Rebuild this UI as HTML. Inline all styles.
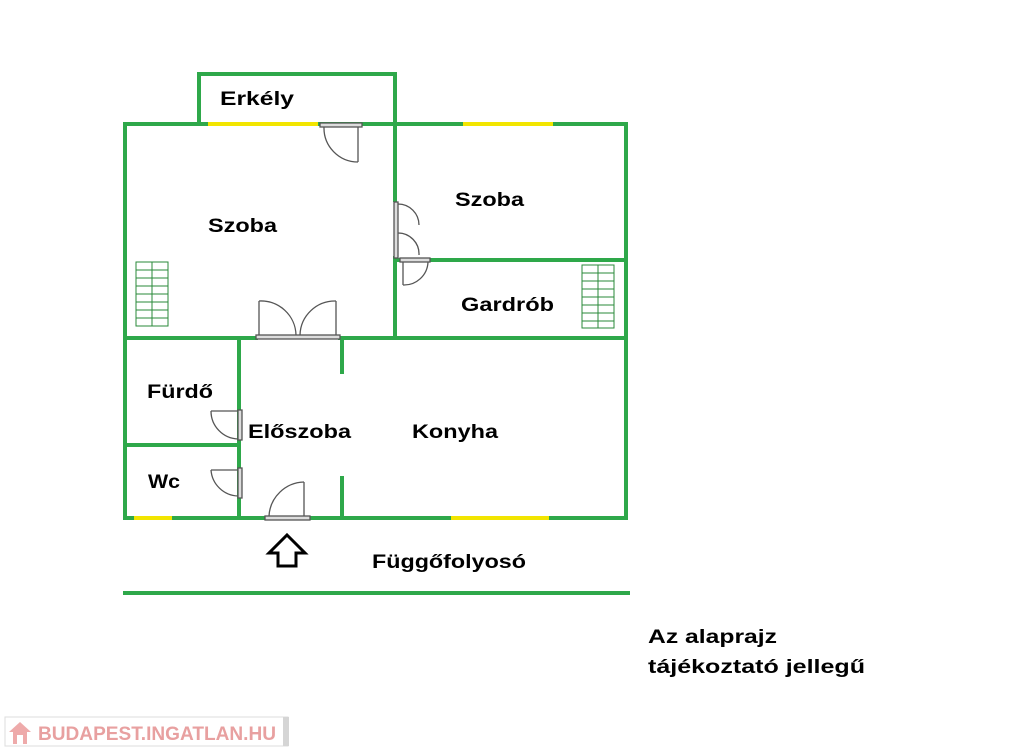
<!DOCTYPE html>
<html><head><meta charset="utf-8"><style>
body{margin:0;background:#fff;width:1024px;height:752px;overflow:hidden}
svg{display:block}
text{font-family:"Liberation Sans",sans-serif;font-weight:bold;fill:#000}
</style></head><body>
<svg width="1024" height="752" viewBox="0 0 1024 752">
<g stroke="#2ea84a" stroke-width="4" fill="none" stroke-linecap="square">
<polyline points="199,124 199,74 395,74 395,124"/>
<line x1="125" y1="124" x2="626" y2="124"/>
<line x1="125" y1="124" x2="125" y2="518"/>
<line x1="626" y1="124" x2="626" y2="518"/>
<line x1="395" y1="124" x2="395" y2="200"/>
<line x1="395" y1="258" x2="395" y2="338"/>
<line x1="395" y1="260" x2="626" y2="260"/>
<line x1="125" y1="338" x2="256" y2="338"/>
<line x1="340" y1="338" x2="626" y2="338"/>
<line x1="239" y1="338" x2="239" y2="518"/>
<line x1="125" y1="445" x2="239" y2="445"/>
<line x1="342" y1="338" x2="342" y2="372"/>
<line x1="342" y1="478" x2="342" y2="518"/>
<line x1="125" y1="518" x2="265" y2="518"/>
<line x1="310" y1="518" x2="626" y2="518"/>
<line x1="125" y1="593" x2="628" y2="593"/>
</g>
<g stroke="#f2e500" stroke-width="4">
<line x1="208" y1="124" x2="318" y2="124"/>
<line x1="463" y1="124" x2="553" y2="124"/>
<line x1="134" y1="518" x2="172" y2="518"/>
<line x1="451" y1="518" x2="549" y2="518"/>
</g>
<g stroke="#555" stroke-width="1.3" fill="none">
<rect x="320" y="123" width="42" height="4" fill="#ddd"/>
<line x1="358" y1="127" x2="358" y2="162"/>
<path d="M324,127 A34,34 0 0 0 358,162"/>
<rect x="394" y="202" width="4" height="56" fill="#ddd"/>
<path d="M398,204 A21,21 0 0 1 419,225"/>
<path d="M398,233 A21,21 0 0 1 419,255"/>
<rect x="400" y="258" width="30" height="4" fill="#ddd"/>
<line x1="403" y1="262" x2="403" y2="285"/>
<path d="M403,285 A24,24 0 0 0 428,262"/>
<rect x="256" y="335" width="84" height="4" fill="#ddd"/>
<line x1="259" y1="301" x2="259" y2="335"/>
<path d="M259,301 A35,35 0 0 1 296,335"/>
<line x1="336" y1="301" x2="336" y2="335"/>
<path d="M336,301 A35,35 0 0 0 300,335"/>
<rect x="238" y="410" width="4" height="30" fill="#ddd"/>
<line x1="211" y1="411" x2="238" y2="411"/>
<path d="M211,411 A28,28 0 0 0 238,439"/>
<rect x="238" y="468" width="4" height="30" fill="#ddd"/>
<line x1="211" y1="470" x2="238" y2="470"/>
<path d="M211,470 A28,28 0 0 0 238,496"/>
<rect x="265" y="516" width="45" height="4" fill="#ddd"/>
<line x1="304" y1="482" x2="304" y2="516"/>
<path d="M304,482 A36,36 0 0 0 269,516"/>
</g>
<g stroke="#2a8a3a" stroke-width="1" fill="none">
<rect x="136" y="262" width="32" height="64"/>
<line x1="152" y1="262" x2="152" y2="326"/>
<line x1="136" y1="270" x2="168" y2="270"/><line x1="136" y1="278" x2="168" y2="278"/><line x1="136" y1="286" x2="168" y2="286"/><line x1="136" y1="294" x2="168" y2="294"/><line x1="136" y1="302" x2="168" y2="302"/><line x1="136" y1="310" x2="168" y2="310"/><line x1="136" y1="318" x2="168" y2="318"/>
<rect x="582" y="265" width="32" height="63"/>
<line x1="598" y1="265" x2="598" y2="328"/>
<line x1="582" y1="273" x2="614" y2="273"/><line x1="582" y1="281" x2="614" y2="281"/><line x1="582" y1="289" x2="614" y2="289"/><line x1="582" y1="297" x2="614" y2="297"/><line x1="582" y1="305" x2="614" y2="305"/><line x1="582" y1="313" x2="614" y2="313"/><line x1="582" y1="321" x2="614" y2="321"/>
</g>
<path d="M287,535 L305,553 L296,553 L296,566 L278,566 L278,553 L269,553 Z" fill="#fff" stroke="#000" stroke-width="3" stroke-linejoin="miter"/>
<g font-size="19" lengthAdjust="spacingAndGlyphs">
<text x="220" y="105" textLength="74" lengthAdjust="spacingAndGlyphs">Erkély</text>
<text x="208" y="232" textLength="69" lengthAdjust="spacingAndGlyphs">Szoba</text>
<text x="455" y="206" textLength="69" lengthAdjust="spacingAndGlyphs">Szoba</text>
<text x="461" y="311" textLength="93" lengthAdjust="spacingAndGlyphs">Gardrób</text>
<text x="147" y="398" textLength="66" lengthAdjust="spacingAndGlyphs">Fürdő</text>
<text x="248" y="438" textLength="103" lengthAdjust="spacingAndGlyphs">Előszoba</text>
<text x="412" y="438" textLength="86" lengthAdjust="spacingAndGlyphs">Konyha</text>
<text x="148" y="488" textLength="32" lengthAdjust="spacingAndGlyphs">Wc</text>
<text x="372" y="568" textLength="154" lengthAdjust="spacingAndGlyphs">Függőfolyosó</text>
<text x="648" y="643" textLength="129" lengthAdjust="spacingAndGlyphs">Az alaprajz</text>
<text x="648" y="673" textLength="217" lengthAdjust="spacingAndGlyphs">tájékoztató jellegű</text>
</g>
<rect x="5" y="717" width="283" height="29" fill="#fff" stroke="#ddd"/>
<rect x="283" y="717" width="6" height="29" fill="#d5d5d5"/>
<path d="M9,732 L20,722 L31,732 Z" fill="#eaa"/>
<rect x="13" y="732" width="14" height="12" fill="#eaa"/>
<rect x="17" y="735" width="6" height="9" fill="#fff"/>
<text x="38" y="740" font-size="19" textLength="238" lengthAdjust="spacingAndGlyphs" style="fill:#e8a0a0">BUDAPEST.INGATLAN.HU</text>
</svg>
</body></html>
